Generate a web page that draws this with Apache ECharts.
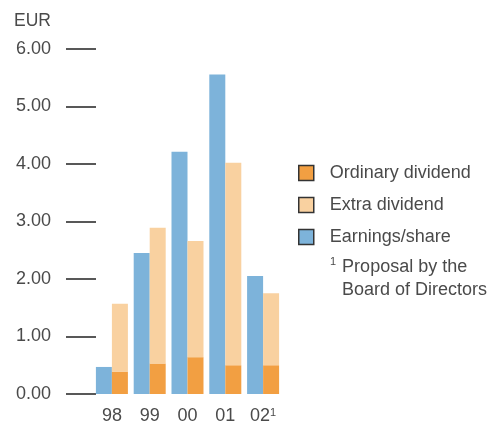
<!DOCTYPE html>
<html><head><meta charset="utf-8">
<script src="https://cdn.jsdelivr.net/npm/echarts@6/dist/echarts.min.js"></script>
<style>html,body{margin:0;padding:0;background:#fff}#c{width:502px;height:421px}</style>
</head><body><div id="c"></div>
<script>
const categories = ['98', '99', '00', '01', '02'];
const earningsPerShare = [0.47, 2.45, 4.21, 5.55, 2.05];
const ordinaryDividend = [0.39, 0.53, 0.64, 0.50, 0.50];
const extraDividend = [1.18, 2.36, 2.02, 3.52, 1.25];
const yTicks = [0, 1, 2, 3, 4, 5, 6];

const font = 'Liberation Sans, Helvetica, Arial, sans-serif';
const textColor = '#4a4a4a';
const chart = echarts.init(document.getElementById('c'), null, {renderer: 'canvas'});
chart.setOption({
  animation: false,
  title: [
    {text: 'EUR', left: 9, top: 7, textStyle: {fontFamily: font, fontSize: 17.5, fontWeight: 'normal', color: textColor}},
    {text: '{sup|1} Proposal by the\n{pad|}Board of Directors', left: 325, top: 251,
     textStyle: {fontFamily: font, fontSize: 18, fontWeight: 'normal', color: textColor, lineHeight: 23,
       rich: {sup: {fontSize: 11, verticalAlign: 'top', color: textColor, fontFamily: font, lineHeight: 23, padding: [0, 1, 0, 0]},
              pad: {width: 12}}}}
  ],
  legend: {
    orient: 'vertical', left: 298, top: 164, padding: 0, itemWidth: 15, itemHeight: 15, itemGap: 14,
    icon: 'rect',
    data: ['Ordinary dividend', 'Extra dividend', 'Earnings/share'],
    textStyle: {fontFamily: font, fontSize: 18, color: textColor, padding: [0, 0, 0, 11]},
    itemStyle: {borderColor: '#333', borderWidth: 1.5}
  },
  grid: {left: 93, right: 220, top: 48.7, bottom: 27, containLabel: false, outerBoundsMode: 'none'},
  xAxis: {
    type: 'category', data: categories,
    axisLine: {show: false}, axisTick: {show: false},
    axisLabel: {interval: 0, margin: 13, fontFamily: font, fontSize: 18, color: textColor,
      formatter: v => v === '02' ? '02{sup|1}' : v,
      rich: {sup: {fontSize: 11, verticalAlign: 'top', fontFamily: font, color: textColor}}}
  },
  yAxis: {
    type: 'value', min: 0, max: 6, interval: 1, offset: -3,
    axisLine: {show: false},
    axisTick: {show: true, length: 30, lineStyle: {color: '#222', width: 1.5}},
    splitLine: {show: false},
    axisLabel: {margin: 45, fontFamily: font, fontSize: 18, color: textColor,
      formatter: v => yTicks.includes(v) ? v.toFixed(2) : ''}
  },
  series: [
    {name: 'Earnings/share', type: 'bar', data: earningsPerShare, barWidth: 16, barGap: '0%',
     itemStyle: {color: '#7db3da'}},
    {name: 'Ordinary dividend', type: 'bar', stack: 'div', data: ordinaryDividend, barWidth: 16,
     itemStyle: {color: '#f29f42'}},
    {name: 'Extra dividend', type: 'bar', stack: 'div', data: extraDividend, barWidth: 16,
     itemStyle: {color: '#f9d1a0'}}
  ]
});
</script></body></html>
